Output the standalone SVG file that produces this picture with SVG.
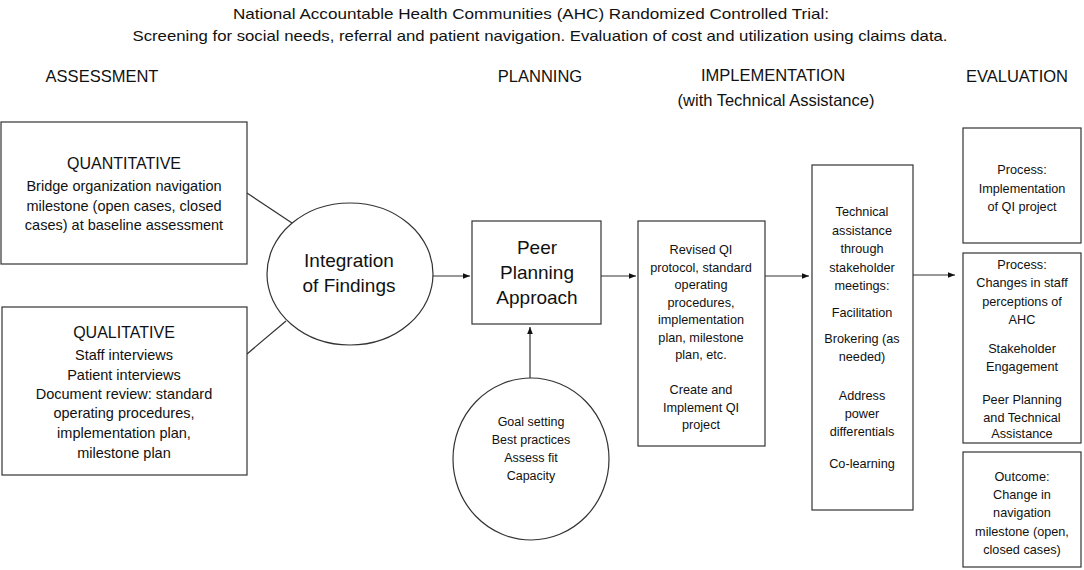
<svg xmlns="http://www.w3.org/2000/svg" width="1084" height="570" viewBox="0 0 1084 570">
<defs>
<style>
text{font-family:"Liberation Sans",Arial,sans-serif;fill:#111;text-anchor:middle}
.t{font-size:15px}
.h{font-size:16.5px}
.big{font-size:19px}
.q{font-size:16px}
.m{font-size:14.5px}
.s{font-size:12.7px}
.g{font-size:12.5px}
rect,ellipse{fill:#fff;stroke:#333;stroke-width:1.2}
.c line{stroke:#333;stroke-width:1.2}
</style>
<marker id="ah" viewBox="0 0 10 10" refX="10" refY="5" markerWidth="7" markerHeight="7" orient="auto" markerUnits="userSpaceOnUse"><path d="M0,1 L10,5 L0,9 z" fill="#111"/></marker>
</defs>
<rect width="1084" height="570" style="fill:#fff;stroke:none"/>
<g id="title">
<text class="t" x="531" y="19" textLength="596" lengthAdjust="spacingAndGlyphs">National Accountable Health Communities (AHC) Randomized Controlled Trial:</text>
<text class="t" x="540" y="41" textLength="815" lengthAdjust="spacingAndGlyphs">Screening for social needs, referral and patient navigation. Evaluation of cost and utilization using claims data.</text>
</g>
<g id="headings">
<text class="h" x="102" y="82">ASSESSMENT</text>
<text class="h" x="540" y="82">PLANNING</text>
<text class="h" x="773" y="81">IMPLEMENTATION</text>
<text class="h" x="776" y="106">(with Technical Assistance)</text>
<text class="h" x="1017" y="82">EVALUATION</text>
</g>
<g class="c" id="connectors">
<line x1="247" y1="193" x2="292" y2="223"/>
<line x1="247" y1="354" x2="286" y2="321"/>
<line x1="433" y1="276" x2="470" y2="276" marker-end="url(#ah)"/>
<line x1="601" y1="276" x2="636" y2="276" marker-end="url(#ah)"/>
<line x1="765" y1="276" x2="809" y2="276" marker-end="url(#ah)"/>
<line x1="913" y1="275" x2="955" y2="275" marker-end="url(#ah)"/>
<line x1="530" y1="378" x2="530" y2="327" marker-end="url(#ah)"/>
</g>
<g id="quantitative">
<rect x="1" y="122" width="246" height="142"/>
<text class="q" x="124" y="169">QUANTITATIVE</text>
<text class="m" x="124" y="191">Bridge organization navigation</text>
<text class="m" x="124" y="211">milestone (open cases, closed</text>
<text class="m" x="124" y="230">cases) at baseline assessment</text>
</g>
<g id="qualitative">
<rect x="2" y="307" width="245" height="168"/>
<text class="q" x="124" y="338">QUALITATIVE</text>
<text class="m" x="124" y="360">Staff interviews</text>
<text class="m" x="124" y="380">Patient interviews</text>
<text class="m" x="124" y="399">Document review: standard</text>
<text class="m" x="124" y="418">operating procedures,</text>
<text class="m" x="124" y="438">implementation plan,</text>
<text class="m" x="124" y="458">milestone plan</text>
</g>
<g id="integration">
<ellipse cx="350" cy="274" rx="83" ry="71"/>
<text class="big" x="349" y="267">Integration</text>
<text class="big" x="349" y="292">of Findings</text>
</g>
<g id="peer">
<rect x="472" y="221" width="129" height="103"/>
<text class="big" x="537" y="254">Peer</text>
<text class="big" x="537" y="279">Planning</text>
<text class="big" x="537" y="304">Approach</text>
</g>
<g id="goals">
<ellipse cx="531" cy="459" rx="78" ry="81"/>
<text class="g" x="531" y="426">Goal setting</text>
<text class="g" x="531" y="444">Best practices</text>
<text class="g" x="531" y="462">Assess fit</text>
<text class="g" x="531" y="480">Capacity</text>
</g>
<g id="revised">
<rect x="638" y="221" width="127" height="225"/>
<text class="s" x="701" y="254">Revised QI</text>
<text class="s" x="701" y="271.5">protocol, standard</text>
<text class="s" x="701" y="289">operating</text>
<text class="s" x="701" y="306.5">procedures,</text>
<text class="s" x="701" y="324">implementation</text>
<text class="s" x="701" y="341.5">plan, milestone</text>
<text class="s" x="701" y="359">plan, etc.</text>
<text class="s" x="701" y="394">Create and</text>
<text class="s" x="701" y="411.5">Implement  QI</text>
<text class="s" x="701" y="429">project</text>
</g>
<g id="technical">
<rect x="812" y="165" width="101" height="345"/>
<text class="s" x="862" y="216">Technical</text>
<text class="s" x="862" y="234.5">assistance</text>
<text class="s" x="862" y="253">through</text>
<text class="s" x="862" y="271.5">stakeholder</text>
<text class="s" x="862" y="290">meetings:</text>
<text class="s" x="862" y="317">Facilitation</text>
<text class="s" x="862" y="343">Brokering  (as</text>
<text class="s" x="862" y="361">needed)</text>
<text class="s" x="862" y="400">Address</text>
<text class="s" x="862" y="418">power</text>
<text class="s" x="862" y="436">differentials</text>
<text class="s" x="862" y="468">Co-learning</text>
</g>
<g id="eval1">
<rect x="963" y="128" width="118" height="115"/>
<text class="s" x="1022" y="174">Process:</text>
<text class="s" x="1022" y="192.5">Implementation</text>
<text class="s" x="1022" y="211">of QI project</text>
</g>
<g id="eval2">
<rect x="963" y="253" width="118" height="190"/>
<text class="s" x="1022" y="269">Process:</text>
<text class="s" x="1022" y="287">Changes in staff</text>
<text class="s" x="1022" y="306">perceptions of</text>
<text class="s" x="1022" y="324">AHC</text>
<text class="s" x="1022" y="353">Stakeholder</text>
<text class="s" x="1022" y="371">Engagement</text>
<text class="s" x="1022" y="404">Peer Planning</text>
<text class="s" x="1022" y="422">and Technical</text>
<text class="s" x="1022" y="438">Assistance</text>
</g>
<g id="eval3">
<rect x="963" y="452" width="118" height="115"/>
<text class="s" x="1022" y="481">Outcome:</text>
<text class="s" x="1022" y="499">Change in</text>
<text class="s" x="1022" y="517">navigation</text>
<text class="s" x="1022" y="536">milestone (open,</text>
<text class="s" x="1022" y="554">closed cases)</text>
</g>
</svg>
